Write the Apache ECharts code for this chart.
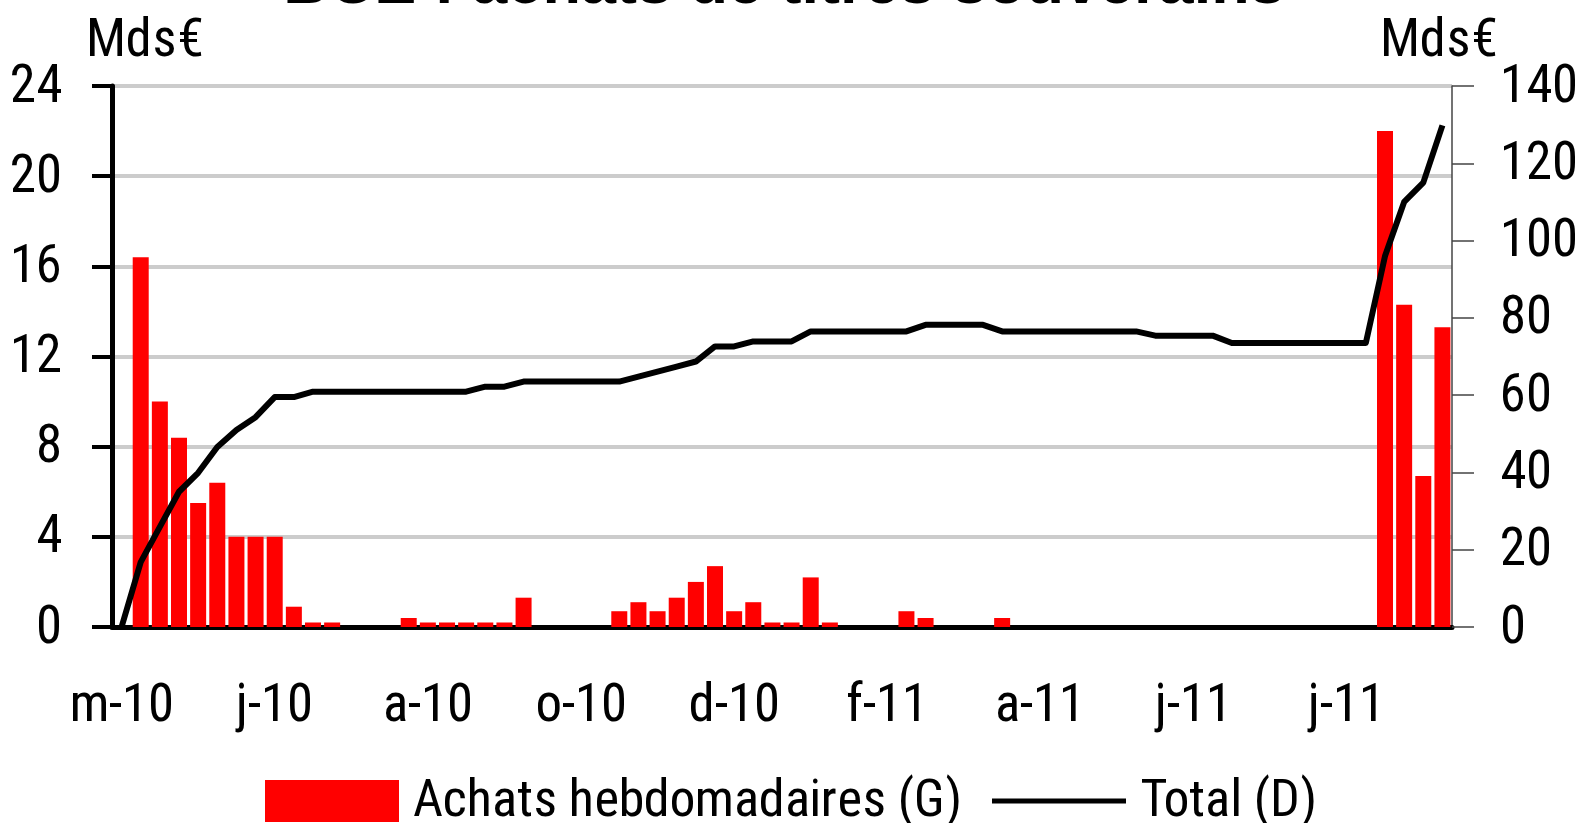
<!DOCTYPE html>
<html>
<head>
<meta charset="utf-8">
<title>BCE : achats de titres souverains</title>
<script src="https://cdn.jsdelivr.net/npm/echarts@6.0.0/dist/echarts.min.js"></script>
<style>
  /* police étroite type Arial Narrow si une est installée */
  @font-face {
    font-family: "ChartNarrow";
    src: local("Liberation Sans Narrow"), local("LiberationSansNarrow"), local("LiberationSansNarrow-Regular"),
         local("Arial Narrow"), local("ArialNarrow"),
         local("Noto Sans Condensed"), local("NotoSans-Condensed"),
         local("Roboto Condensed"), local("RobotoCondensed-Regular"),
         local("DejaVu Sans Condensed"), local("DejaVuSansCondensed");
  }
  html, body { margin: 0; padding: 0; background: #fff; }
  #chart { width: 1581px; height: 823px; }
</style>
</head>
<body>
<div id="chart"></div>
<script>
// semaines (vendredi) de mai 2010 à septembre 2011
const weeks = [
  "2010-05-07", "2010-05-14", "2010-05-21", "2010-05-28", "2010-06-04", "2010-06-11", "2010-06-18", "2010-06-25",
  "2010-07-02", "2010-07-09", "2010-07-16", "2010-07-23", "2010-07-30", "2010-08-06", "2010-08-13", "2010-08-20",
  "2010-08-27", "2010-09-03", "2010-09-10", "2010-09-17", "2010-09-24", "2010-10-01", "2010-10-08", "2010-10-15",
  "2010-10-22", "2010-10-29", "2010-11-05", "2010-11-12", "2010-11-19", "2010-11-26", "2010-12-03", "2010-12-10",
  "2010-12-17", "2010-12-24", "2010-12-31", "2011-01-07", "2011-01-14", "2011-01-21", "2011-01-28", "2011-02-04",
  "2011-02-11", "2011-02-18", "2011-02-25", "2011-03-04", "2011-03-11", "2011-03-18", "2011-03-25", "2011-04-01",
  "2011-04-08", "2011-04-15", "2011-04-22", "2011-04-29", "2011-05-06", "2011-05-13", "2011-05-20", "2011-05-27",
  "2011-06-03", "2011-06-10", "2011-06-17", "2011-06-24", "2011-07-01", "2011-07-08", "2011-07-15", "2011-07-22",
  "2011-07-29", "2011-08-05", "2011-08-12", "2011-08-19", "2011-08-26", "2011-09-02"
];

// achats hebdomadaires, Mds€ (axe gauche)
const weeklyBuys = [
  0, 16.4, 10.0, 8.4, 5.5, 6.4, 4.0, 4.0,
  4.0, 0.9, 0.2, 0.2, 0, 0, 0, 0.4,
  0.2, 0.2, 0.2, 0.2, 0.2, 1.3, 0, 0,
  0, 0, 0.7, 1.1, 0.7, 1.3, 2.0, 2.7,
  0.7, 1.1, 0.2, 0.2, 2.2, 0.2, 0, 0,
  0, 0.7, 0.4, 0, 0, 0, 0.4, 0,
  0, 0, 0, 0, 0, 0, 0, 0,
  0, 0, 0, 0, 0, 0, 0, 0,
  0, 0, 22.0, 14.3, 6.7, 13.3
];

// encours total, Mds€ (axe droit)
const totalHeld = [
  0, 16.8, 25.9, 35.0, 39.9, 46.6, 51.0, 54.3,
  59.5, 59.5, 60.9, 60.9, 60.9, 60.9, 60.9, 60.9,
  60.9, 60.9, 60.9, 62.2, 62.2, 63.5, 63.5, 63.5,
  63.5, 63.5, 63.5, 64.8, 66.1, 67.4, 68.7, 72.6,
  72.6, 73.9, 73.9, 73.9, 76.5, 76.5, 76.5, 76.5,
  76.5, 76.5, 78.2, 78.2, 78.2, 78.2, 76.5, 76.5,
  76.5, 76.5, 76.5, 76.5, 76.5, 76.5, 75.4, 75.4,
  75.4, 75.4, 73.5, 73.5, 73.5, 73.5, 73.5, 73.5,
  73.5, 73.5, 96.0, 110.0, 115.0, 129.8
];

const monthInitials = ["j", "f", "m", "a", "m", "j", "j", "a", "s", "o", "n", "d"];
const leftTicks = { min: 0, max: 24, interval: 4 };
const rightTicks = { min: 0, max: 140, interval: 20 };

function weekLabel(d) {
  // "2010-05-07" -> "m-10"
  const m = parseInt(d.slice(5, 7), 10);
  return monthInitials[m - 1] + "-" + d.slice(2, 4);
}

function draw() {
  let narrow = false;
  document.fonts.forEach((f) => {
    if (f.family.replace(/"/g, "") === "ChartNarrow" && f.status === "loaded") narrow = true;
  });
  const font = narrow ? "ChartNarrow, 'Liberation Sans', sans-serif" : "'Liberation Sans', Arial, sans-serif";
  const fontSize = narrow ? 53 : 46;
  const legendSize = narrow ? 52 : 46;

  const chart = echarts.init(document.getElementById("chart"));
  const option = {
    animation: false,
    backgroundColor: "#ffffff",
    textStyle: { fontFamily: font, color: "#000" },
    grid: { left: 112, right: 125, top: 86, height: 541, containLabel: false },
    graphic: [
      {
        type: "text",
        style: {
          text: "BCE : achats de titres souverains",
          x: 784, y: -14,
          align: "center", verticalAlign: "middle",
          font: "bold 63px 'Liberation Sans', Arial, sans-serif",
          fill: "#000"
        }
      },
      {
        type: "text",
        style: {
          text: "Mds€", x: 86, y: 40,
          align: "left", verticalAlign: "middle",
          font: fontSize + "px " + font, fill: "#000"
        }
      },
      {
        type: "text",
        style: {
          text: "Mds€", x: 1380, y: 40,
          align: "left", verticalAlign: "middle",
          font: fontSize + "px " + font, fill: "#000"
        }
      }
    ],
    legend: {
      left: 260,
      top: 770,
      itemWidth: 134,
      itemHeight: 42,
      itemGap: 30,
      textStyle: { fontFamily: font, fontSize: legendSize, color: "#000", padding: [0, 0, 0, 9] },
      data: [
        { name: "Achats hebdomadaires (G)", icon: "rect" },
        { name: "Total (D)", icon: "path://M0,0H134V5H0Z" }
      ]
    },
    xAxis: {
      type: "category",
      data: weeks,
      boundaryGap: true,
      axisLine: { lineStyle: { color: "#000", width: 5 } },
      axisTick: { interval: 7, length: 20, lineStyle: { color: "#000", width: 4 } },
      axisLabel: {
        interval: 7,
        margin: 52,
        fontFamily: font,
        fontSize: fontSize,
        color: "#000",
        formatter: weekLabel
      },
      splitLine: { show: false }
    },
    yAxis: [
      {
        type: "value",
        min: leftTicks.min,
        max: leftTicks.max,
        interval: leftTicks.interval,
        axisLine: { show: true, lineStyle: { color: "#000", width: 5 } },
        axisTick: { show: true, length: 20, lineStyle: { color: "#000", width: 4 } },
        axisLabel: { margin: 50, fontFamily: font, fontSize: fontSize, color: "#000", padding: [0, 0, 6, 0] },
        splitLine: { show: true, lineStyle: { color: "#cccccc", width: 4 } }
      },
      {
        type: "value",
        position: "right",
        min: rightTicks.min,
        max: rightTicks.max,
        interval: rightTicks.interval,
        axisLine: { show: true, lineStyle: { color: "#444", width: 1.5 } },
        axisTick: { show: true, length: 22, lineStyle: { color: "#444", width: 1.5 } },
        axisLabel: { margin: 48, fontFamily: font, fontSize: fontSize, color: "#000", padding: [0, 0, 10, 0] },
        splitLine: { show: false }
      }
    ],
    series: [
      {
        name: "Achats hebdomadaires (G)",
        type: "bar",
        yAxisIndex: 0,
        data: weeklyBuys,
        barWidth: 16,
        itemStyle: { color: "#ff0000" }
      },
      {
        name: "Total (D)",
        type: "line",
        yAxisIndex: 1,
        data: totalHeld,
        symbol: "none",
        lineStyle: { color: "#000", width: 6, join: "round" },
        itemStyle: { color: "#000" },
        z: 3
      }
    ]
  };
  chart.setOption(option);
}

document.fonts.load("53px ChartNarrow").then(draw, draw);
</script>
</body>
</html>
